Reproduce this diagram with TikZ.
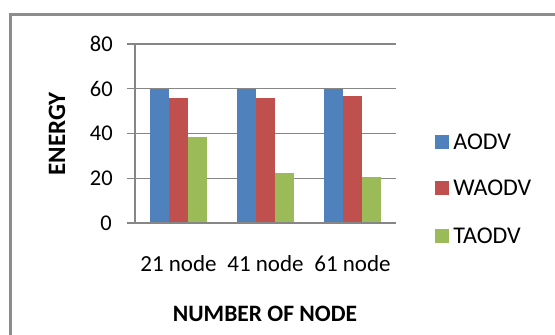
\documentclass[tikz,border=0pt]{standalone}
\usepackage{fontspec}
\setmainfont{Carlito}
\usepackage{xcolor}
\usepackage{tikz}
\usetikzlibrary{positioning}

\definecolor{aodvblue}{RGB}{79,129,189}
\definecolor{waodvred}{RGB}{192,80,77}
\definecolor{taodvgreen}{RGB}{155,187,89}
\definecolor{gridgray}{RGB}{134,134,134}
\definecolor{framegray}{RGB}{140,140,140}

\tikzset{
  gridline/.style={draw=gridgray, line width=1.3pt},
  ticklabel/.style={anchor=east, inner sep=0pt, font=\fontsize{22.5}{24}\selectfont},
  catlabel/.style={inner sep=0pt, font=\fontsize{23}{25}\selectfont},
  axistitle/.style={inner sep=0pt, font=\bfseries\fontsize{23.5}{25}\selectfont},
  legendkey/.style={minimum size=14pt, inner sep=0pt},
  legendtext/.style={inner sep=0pt, font=\fontsize{24}{26}\selectfont},
}

\begin{document}
\begin{tikzpicture}[x=1pt, y=1pt]
  \clip (-135,-112) rectangle (420,223);
  \coordinate (O) at (0,0);
  \def\yunit{2.2375}
  \def\barwidth{19.3}
  \def\groupwidth{87}
  \def\plotwidth{261}

  % frame
  \draw[framegray, line width=2.6pt] (-124.3,-130) -- (-124.3,208.6) -- (440,208.6);

  % grid and axes
  \draw[gridline] (O) ++(-8,20*\yunit) -- ++(\plotwidth+8,0);
  \draw[gridline] (O) ++(-8,40*\yunit) -- ++(\plotwidth+8,0);
  \draw[gridline] (O) ++(-8,60*\yunit) -- ++(\plotwidth+8,0);
  \draw[gridline] (O) ++(-8,80*\yunit) -- ++(\plotwidth+8,0);
  \draw[gridline] (O) -- ++(0,80*\yunit);

  % 21 node
  \path (O) ++(0.5*\groupwidth,0) coordinate (C1);
  \fill[aodvblue] (C1) ++(-1.5*\barwidth,0) rectangle ++(\barwidth,60*\yunit);
  \fill[waodvred] (C1) ++(-0.5*\barwidth,0) rectangle ++(\barwidth,56*\yunit);
  \fill[taodvgreen] (C1) ++(0.5*\barwidth,0) rectangle ++(\barwidth,38.6*\yunit);

  % 41 node
  \path (O) ++(1.5*\groupwidth,0) coordinate (C2);
  \fill[aodvblue] (C2) ++(-1.5*\barwidth,0) rectangle ++(\barwidth,60*\yunit);
  \fill[waodvred] (C2) ++(-0.5*\barwidth,0) rectangle ++(\barwidth,56*\yunit);
  \fill[taodvgreen] (C2) ++(0.5*\barwidth,0) rectangle ++(\barwidth,22.5*\yunit);

  % 61 node
  \path (O) ++(2.5*\groupwidth,0) coordinate (C3);
  \fill[aodvblue] (C3) ++(-1.5*\barwidth,0) rectangle ++(\barwidth,60*\yunit);
  \fill[waodvred] (C3) ++(-0.5*\barwidth,0) rectangle ++(\barwidth,56.6*\yunit);
  \fill[taodvgreen] (C3) ++(0.5*\barwidth,0) rectangle ++(\barwidth,20.7*\yunit);

  \draw[gridline] (O) ++(-8,0) -- ++(\plotwidth+8,0);

  % tick labels
  \node[ticklabel] (T0) at (-23,0) {0};
  \node[ticklabel] (T20) at (-22,20*\yunit) {20};
  \node[ticklabel] (T40) at (-22,40*\yunit) {40};
  \node[ticklabel] (T60) at (-22,60*\yunit) {60};
  \node[ticklabel] (T80) at (-22,80*\yunit) {80};

  % category labels
  \node[catlabel] (N21) at ([yshift=-41pt]C1) {21 node};
  \node[catlabel] (N41) at ([yshift=-41pt]C2) {41 node};
  \node[catlabel] (N61) at ([yshift=-41pt]C3) {61 node};

  % titles
  \node[axistitle, rotate=90, font=\bfseries\fontsize{25}{27}\selectfont] (YT) at (-78,89) {ENERGY};
  \node[axistitle] (XT) at (130,-91) {NUMBER OF NODE};

  % legend
  \node[legendkey, fill=aodvblue] (K1) at (307,81.4) {};
  \node[legendkey, fill=waodvred] (K2) at (307,35) {};
  \node[legendkey, fill=taodvgreen] (K3) at (307,-13) {};
  \node[legendtext, right=4pt of K1] (L1) {AODV};
  \node[legendtext, right=4pt of K2] (L2) {WAODV};
  \node[legendtext, right=4pt of K3] (L3) {TAODV};

\end{tikzpicture}
\end{document}
